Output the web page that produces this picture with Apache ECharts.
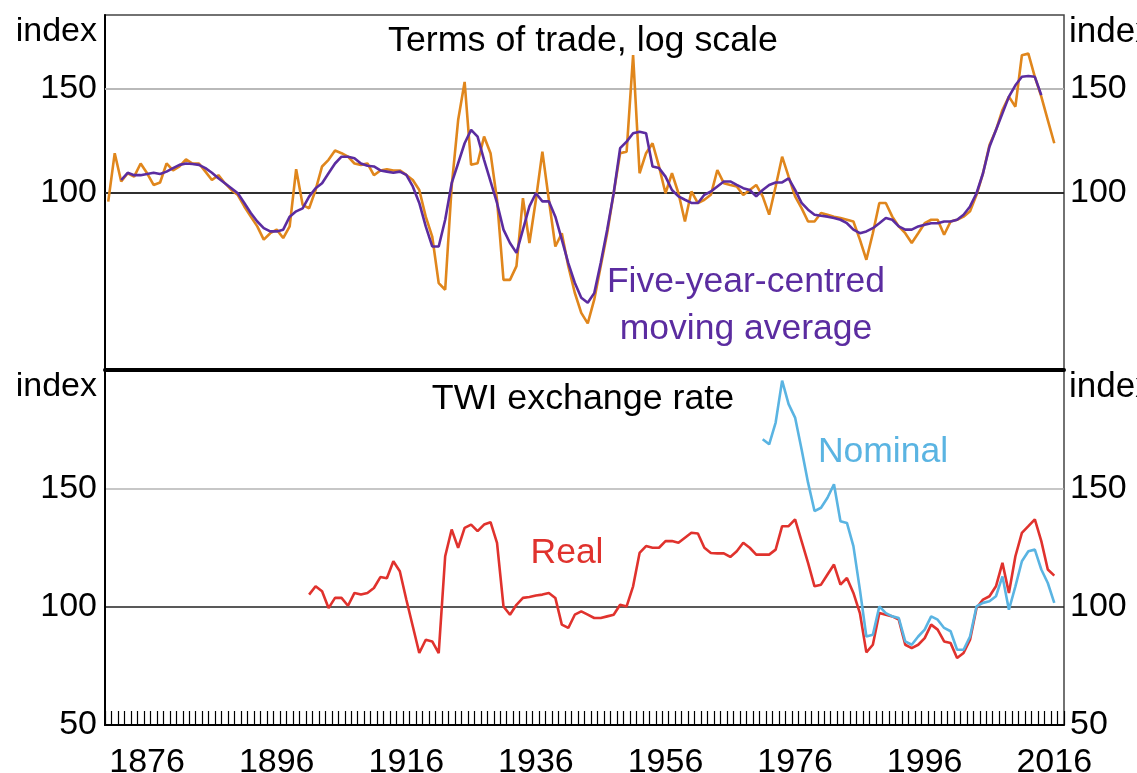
<!DOCTYPE html>
<html>
<head>
<meta charset="utf-8">
<script src="https://cdn.jsdelivr.net/npm/echarts@6/dist/echarts.min.js"></script>
<style>
html,body{margin:0;padding:0;background:#fff;}
#chart{width:1137px;height:773px;}
</style>
</head>
<body>
<div id="chart"></div>
<script>
// ---- Data ----
const FIRST_YEAR = 1870;
const LAST_YEAR = 2017;
const tickLabelYears = ['1876','1896','1916','1936','1956','1976','1996','2016'];

// Terms of trade index, annual, 1870-2016 (log scale panel)
const termsOfTrade = [
  96.5,116.6,104.4,107.8,106.4,112,107.8,103,104,112,
  109,110.7,113.8,112,112,108.5,105,107,103.7,101,
  99,94.7,91,87.6,83.2,85.3,86.5,83.7,87.6,109.5,
  95.3,94,101,110.7,113.6,117.8,116.6,115,112,111.4,
  112,107,109,109.5,109,109,107.1,105,101,91,
  84.2,70.2,68.4,102.4,132.7,154,111.4,112.1,124.4,116.6,
  97.2,71.1,71.1,75,97.8,82.1,97.2,117.3,97.2,81,
  85.3,75,67.6,62.5,60,65.8,75,85.3,99.7,116.6,
  117.3,171,107.8,116.6,121.2,110.7,99.7,107.8,99.7,89.3,
  100.4,95.9,97.2,99.1,109.2,103.7,103,102.4,99,101,
  103,98.5,91.7,102.4,115,106.4,98.5,94.1,89.3,89.3,
  92.3,91.7,91,90.5,89.9,89.3,83.2,76.9,85.3,96,
  96,91,87.6,85.3,82.1,85.3,88.7,89.9,89.9,84.8,
  89.3,89.9,91,92.9,99.1,107.8,120.4,127.6,138,145.4,
  139.8,170.9,172,157.1,145.4,132.7,121.2
];
// Five-year-centred moving average, 1872-2014
const movingAverageStart = 1872;
const movingAverage = [
  105,108,107,107,107.5,108,107.5,108.5,
  110,111.4,112,111.8,111.4,110,108,105.7,103.7,101.7,
  99.7,96,92.3,89.3,87,85.9,85.9,86.5,91,92.9,
  94,98.4,101.7,103.7,107.8,112,115,115,114.3,112,
  111,110.7,109,108.5,108,108.5,107.1,102.4,96,87.6,
  81,81,89.9,103.7,112.1,121.2,127.7,124.4,113.6,104.4,
  96,86.5,82.1,79,86.5,94.7,99.7,96.6,96.6,91,
  83.2,75.9,70.3,66.3,65,67.5,75.9,86.5,99.7,118.9,
  122,126,126.8,126,110.7,110,106.4,101,98.5,97.2,
  96,96,99.1,100.4,102.4,104.4,104.4,103,101.7,101,
  98.5,101,103,104,104,105.7,101,96,93.5,91.7,
  91.3,91,90.5,89.9,88.7,86.5,85.3,85.9,87,88.7,
  90.5,89.9,87.6,86.5,86.5,87.6,88.2,88.7,88.7,89.3,
  89.3,89.9,91.7,94.7,99.7,107.8,119.6,127.6,136.2,145.4,
  152,157.1,157.6,157.1,146.3
];
// Real TWI, 1901-2016
const realStart = 1901;
const realTWI = [
  105.1,108.6,106.5,99.4,103.7,103.7,100.4,105.8,105.1,
  105.8,107.9,112.5,112,119.2,115,103,91.7,80.4,86,
  85.3,80.4,121.3,132.6,124.9,133.3,134.7,131.9,134.7,135.7,
  127,100.1,96.6,100.8,103.7,104.1,104.7,105.1,105.8,103.7,
  92.4,91,96.6,98,96.6,95.2,95.2,95.9,96.6,100.8,
  100.1,108.6,122.7,125.6,124.9,124.9,127.7,127.7,127,129.1,
  131.2,130.9,124.9,122.7,122.5,122.5,121,123.4,127,124.9,
  122,122,122,124.1,134,134,136.9,127.7,118.5,108.6,
  109.3,113.6,117.8,109.3,112.1,105.8,97.3,80.7,83.9,97.3,
  96.6,95.9,94.5,83.9,82.5,83.9,86.7,92.4,90.3,85.3,
  84.6,78.3,80.4,86,99.4,103,104.4,108.6,118.5,105.8,
  121.3,131.2,134,136.9,127.7,115.7,113.1
];
// Nominal TWI, 1971-2016
const nominalStart = 1971;
const nominalTWI = [
  170.7,168.6,177.8,195.5,185.6,179.9,166.5,152.4,140.4,
  141.8,146,151.7,136.1,135.4,125.6,107.2,87.4,88.1,100.1,
  97.3,95.9,95.2,85.3,83.9,87.4,90.3,95.9,94.5,91,
  89.6,81.8,81.8,87.4,100.1,101.6,102.3,104.4,112.8,98.7,
  108.6,119.2,123.4,124.1,115.7,110,101.6
];

// ---- Build aligned series ----
const years = [];
for (let y = FIRST_YEAR; y <= LAST_YEAR; y++) years.push(String(y));
function align(start, arr) {
  const out = years.map(() => null);
  arr.forEach((v, i) => { out[start - FIRST_YEAR + i] = v; });
  return out;
}

const FONT = "'Liberation Sans', Arial, sans-serif";
const C_ORANGE = '#e0861c';
const C_PURPLE = '#5b2ca0';
const C_RED = '#e0322d';
const C_BLUE = '#5ab4e2';

const chart = echarts.init(document.getElementById('chart'), null, {renderer: 'canvas'});

function hLine(value, color, pos, dist) {
  return {
    yAxis: value,
    lineStyle: {color: color, width: 1.5, type: 'solid'},
    label: {show: true, position: pos, distance: dist, formatter: String(value),
            color: '#000', fontSize: 34, fontFamily: FONT}
  };
}

const option = {
  animation: false,
  backgroundColor: '#fff',
  textStyle: {fontFamily: FONT},
  grid: [
    {left: 105, right: 73, top: 15, height: 355, show: true, borderColor: '#444', borderWidth: 1.5,
     backgroundColor: 'transparent', containLabel: false, outerBoundsMode: 'none'},
    {left: 105, right: 73, top: 370, height: 355, show: true, borderColor: '#444', borderWidth: 1.5,
     backgroundColor: 'transparent', containLabel: false, outerBoundsMode: 'none'}
  ],
  xAxis: [
    {gridIndex: 0, type: 'category', data: years, boundaryGap: true,
     axisLine: {show: true, lineStyle: {color: '#000', width: 4}},
     axisTick: {show: false}, axisLabel: {show: false}, splitLine: {show: false}},
    {gridIndex: 1, type: 'category', data: years, boundaryGap: true,
     axisLine: {show: true, lineStyle: {color: '#000', width: 2}},
     axisTick: {show: true, inside: true, length: 14, interval: 0, lineStyle: {color: '#000', width: 1.2}},
     axisLabel: {interval: (i, v) => tickLabelYears.indexOf(v) >= 0, margin: 21,
                 fontSize: 34, color: '#000', fontFamily: FONT},
     splitLine: {show: false}}
  ],
  yAxis: [
    {gridIndex: 0, type: 'log', logBase: 10, min: 50, max: 200,
     axisLine: {show: true, lineStyle: {color: '#000', width: 2}},
     axisTick: {show: false}, axisLabel: {show: false}, splitLine: {show: false}},
    {gridIndex: 1, type: 'value', min: 50, max: 200, interval: 50,
     axisLine: {show: true, lineStyle: {color: '#000', width: 2}},
     axisTick: {show: false},
     axisLabel: {formatter: v => (v === 200 ? '' : String(v)), margin: 8, fontSize: 34, color: '#000', fontFamily: FONT},
     splitLine: {show: true, lineStyle: {color: ['rgba(0,0,0,0)', '#222', '#b5b5b5', 'rgba(0,0,0,0)'], width: 1.5}}},
    {gridIndex: 1, type: 'value', position: 'right', min: 50, max: 200, interval: 50,
     axisLine: {show: false}, axisTick: {show: false},
     axisLabel: {formatter: v => (v === 200 ? '' : String(v)), margin: 6, fontSize: 34, color: '#000', fontFamily: FONT},
     splitLine: {show: false}}
  ],
  series: [
    {name: 'Terms of trade', type: 'line', xAxisIndex: 0, yAxisIndex: 0,
     data: align(FIRST_YEAR, termsOfTrade), showSymbol: false, symbol: 'none',
     lineStyle: {color: C_ORANGE, width: 2.6}, itemStyle: {color: C_ORANGE}, z: 3,
     markLine: {silent: true, symbol: 'none', z: 1, animation: false,
       data: [hLine(150, '#b5b5b5', 'start', 8), hLine(150, '#b5b5b5', 'end', 6),
              hLine(100, '#222', 'start', 8), hLine(100, '#222', 'end', 6)]}},
    {name: 'Five-year-centred moving average', type: 'line', xAxisIndex: 0, yAxisIndex: 0,
     data: align(movingAverageStart, movingAverage), showSymbol: false, symbol: 'none',
     lineStyle: {color: C_PURPLE, width: 2.6}, itemStyle: {color: C_PURPLE}, z: 4},
    {name: 'Real', type: 'line', xAxisIndex: 1, yAxisIndex: 1,
     data: align(realStart, realTWI), showSymbol: false, symbol: 'none',
     lineStyle: {color: C_RED, width: 2.6}, itemStyle: {color: C_RED}, z: 3},
    {name: 'Nominal', type: 'line', xAxisIndex: 1, yAxisIndex: 1,
     data: align(nominalStart, nominalTWI), showSymbol: false, symbol: 'none',
     lineStyle: {color: C_BLUE, width: 2.6}, itemStyle: {color: C_BLUE}, z: 4}
  ],
  graphic: [
    {type: 'text', x: 97, y: 32, style: {text: 'index', align: 'right', verticalAlign: 'middle', font: '34px ' + FONT, fill: '#000'}},
    {type: 'text', x: 97, y: 387, style: {text: 'index', align: 'right', verticalAlign: 'middle', font: '34px ' + FONT, fill: '#000'}},
    {type: 'text', x: 1069, y: 32, style: {text: 'index', align: 'left', verticalAlign: 'middle', font: '35px ' + FONT, fill: '#000'}},
    {type: 'text', x: 1069, y: 387, style: {text: 'index', align: 'left', verticalAlign: 'middle', font: '35px ' + FONT, fill: '#000'}},
    {type: 'text', x: 583, y: 41, style: {text: 'Terms of trade, log scale', align: 'center', verticalAlign: 'middle', font: '35.8px ' + FONT, fill: '#000'}},
    {type: 'text', x: 583, y: 399, style: {text: 'TWI exchange rate', align: 'center', verticalAlign: 'middle', font: '35.8px ' + FONT, fill: '#000'}},
    {type: 'text', x: 746, y: 282, style: {text: 'Five-year-centred', align: 'center', verticalAlign: 'middle', font: '35.5px ' + FONT, fill: C_PURPLE}},
    {type: 'text', x: 746, y: 329, style: {text: 'moving average', align: 'center', verticalAlign: 'middle', font: '35.5px ' + FONT, fill: C_PURPLE}},
    {type: 'text', x: 567, y: 553, style: {text: 'Real', align: 'center', verticalAlign: 'middle', font: '35.5px ' + FONT, fill: C_RED}},
    {type: 'text', x: 883, y: 452, style: {text: 'Nominal', align: 'center', verticalAlign: 'middle', font: '35.5px ' + FONT, fill: C_BLUE}}
  ]
};
chart.setOption(option);
</script>
</body>
</html>
